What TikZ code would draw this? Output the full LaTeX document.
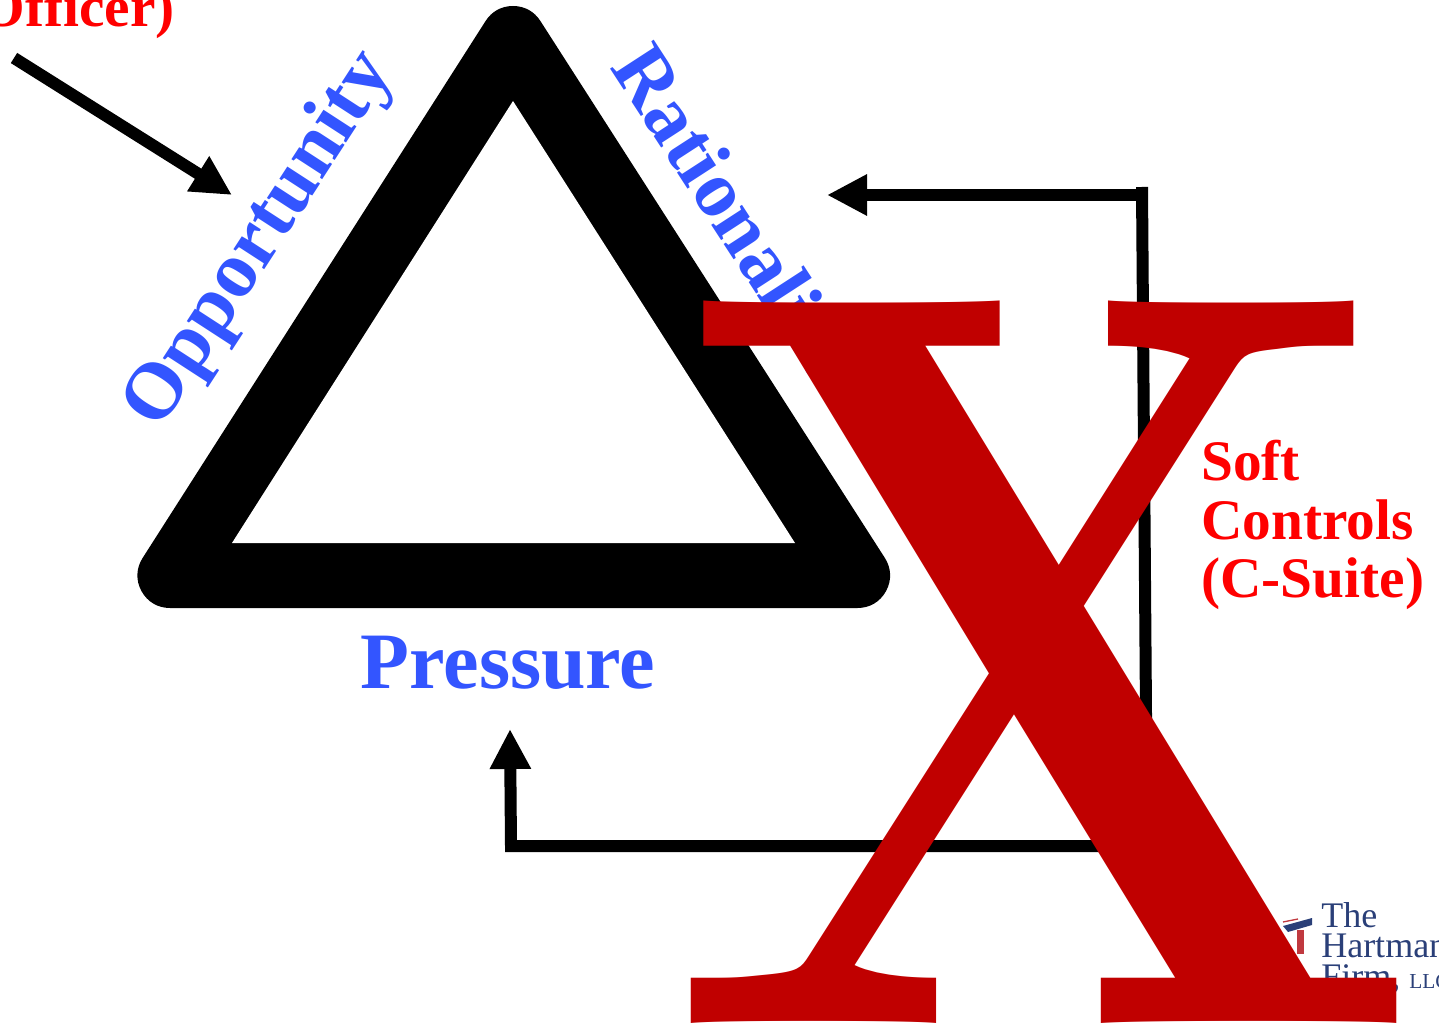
\documentclass[tikz,border=0pt]{standalone}
\usepackage{fontspec}
\usepackage{graphicx}
\setmainfont{Liberation Serif}
\newfontfamily\lmbig{Latin Modern Roman}
\usetikzlibrary{arrows.meta}
\definecolor{triblue}{HTML}{3355FF}
\definecolor{bigx}{HTML}{C00000}
\definecolor{navy}{HTML}{2A3F78}
\definecolor{logored}{HTML}{C0393F}
\tikzset{
  tiplabel/.style={inner sep=0pt,text=triblue,font=\bfseries\fontsize{60}{60}\selectfont},
  redlabel/.style={inner sep=0pt,text=red,font=\bfseries\fontsize{43}{44}\selectfont},
  logotext/.style={inner sep=0pt,anchor=base west,text=navy,font=\fontsize{27}{27}\selectfont},
  fatarrow/.style={line width=9pt,-{Triangle[length=30pt,width=29pt]}},
  elbow/.style={line width=9pt},
  triline/.style={line width=48.75pt,line join=round,draw=black,fill=black}
}
\begin{document}
\begin{tikzpicture}[x=0.75pt,y=-0.75pt]
\useasboundingbox (0,0) rectangle (1439,1023);
\clip (0,0) rectangle (1439,1023);
% triangle
\coordinate (apex) at (513,38.5);
\coordinate (left) at (170,575.5);
\coordinate (right) at (857.5,575.5);
\draw[triline] (apex) -- (left) -- (right) -- cycle;
\coordinate (iapex) at (513,101);
\coordinate (ileft) at (232,543);
\coordinate (iright) at (795,543);
\fill[white] (iapex) -- (ileft) -- (iright) -- cycle;
% labels
\node[tiplabel,anchor=base west,rotate=57] (opp) at (159,432) {Opportunity};
\node[tiplabel,anchor=base west,rotate=-57] (rat) at (609,67) {Rationalization};
\node[tiplabel,anchor=base] (pre) at (508,688) {Pressure};
\node[redlabel,anchor=base east] (off) at (175,27) {Officer)};
\node[redlabel,anchor=base west] (soft) at (1201,480) {Soft};
\node[redlabel,anchor=base west] (ctl) at (1201,539) {Controls};
\node[redlabel,anchor=base west] (suite) at (1201,597) {(C-Suite)};
% arrows
\coordinate (a1) at (14,58);
\coordinate (a1tip) at (232,195);
\draw[fatarrow] (a1) -- (a1tip);
\coordinate (top) at (1142,187);
\coordinate (topj) at (1142,195);
\coordinate (rtip) at (827,195);
\coordinate (corner) at (1147,846);
\coordinate (lcorner) at (511,846);
\coordinate (ptip) at (510,729);
\draw[fatarrow] (topj) -- (rtip);
\draw[elbow] (top) -- (corner);
\draw[fatarrow] (corner) -- (lcorner) -- (ptip);
% logo
\fill[navy] (1283,926) -- (1312,918) -- (1312,925) -- (1288,932) -- cycle;
\draw[logored,line width=1pt] (1283,922) -- (1298,919);
\fill[logored] (1297,930) rectangle (1304,954);
\node[logotext] (l1) at (1321,927) {The};
\node[logotext] (l2) at (1321,957) {Hartman};
\node[logotext] (l3) at (1321,988) {Firm, {\fontsize{16}{16}\selectfont LLC}};
% big X
\node[inner sep=0pt,anchor=base,text=bigx,font=\lmbig\bfseries\fontsize{790}{790}\selectfont] (X) at (1044,1023) {\scalebox{0.85}[1]{X}};
\end{tikzpicture}
\end{document}
